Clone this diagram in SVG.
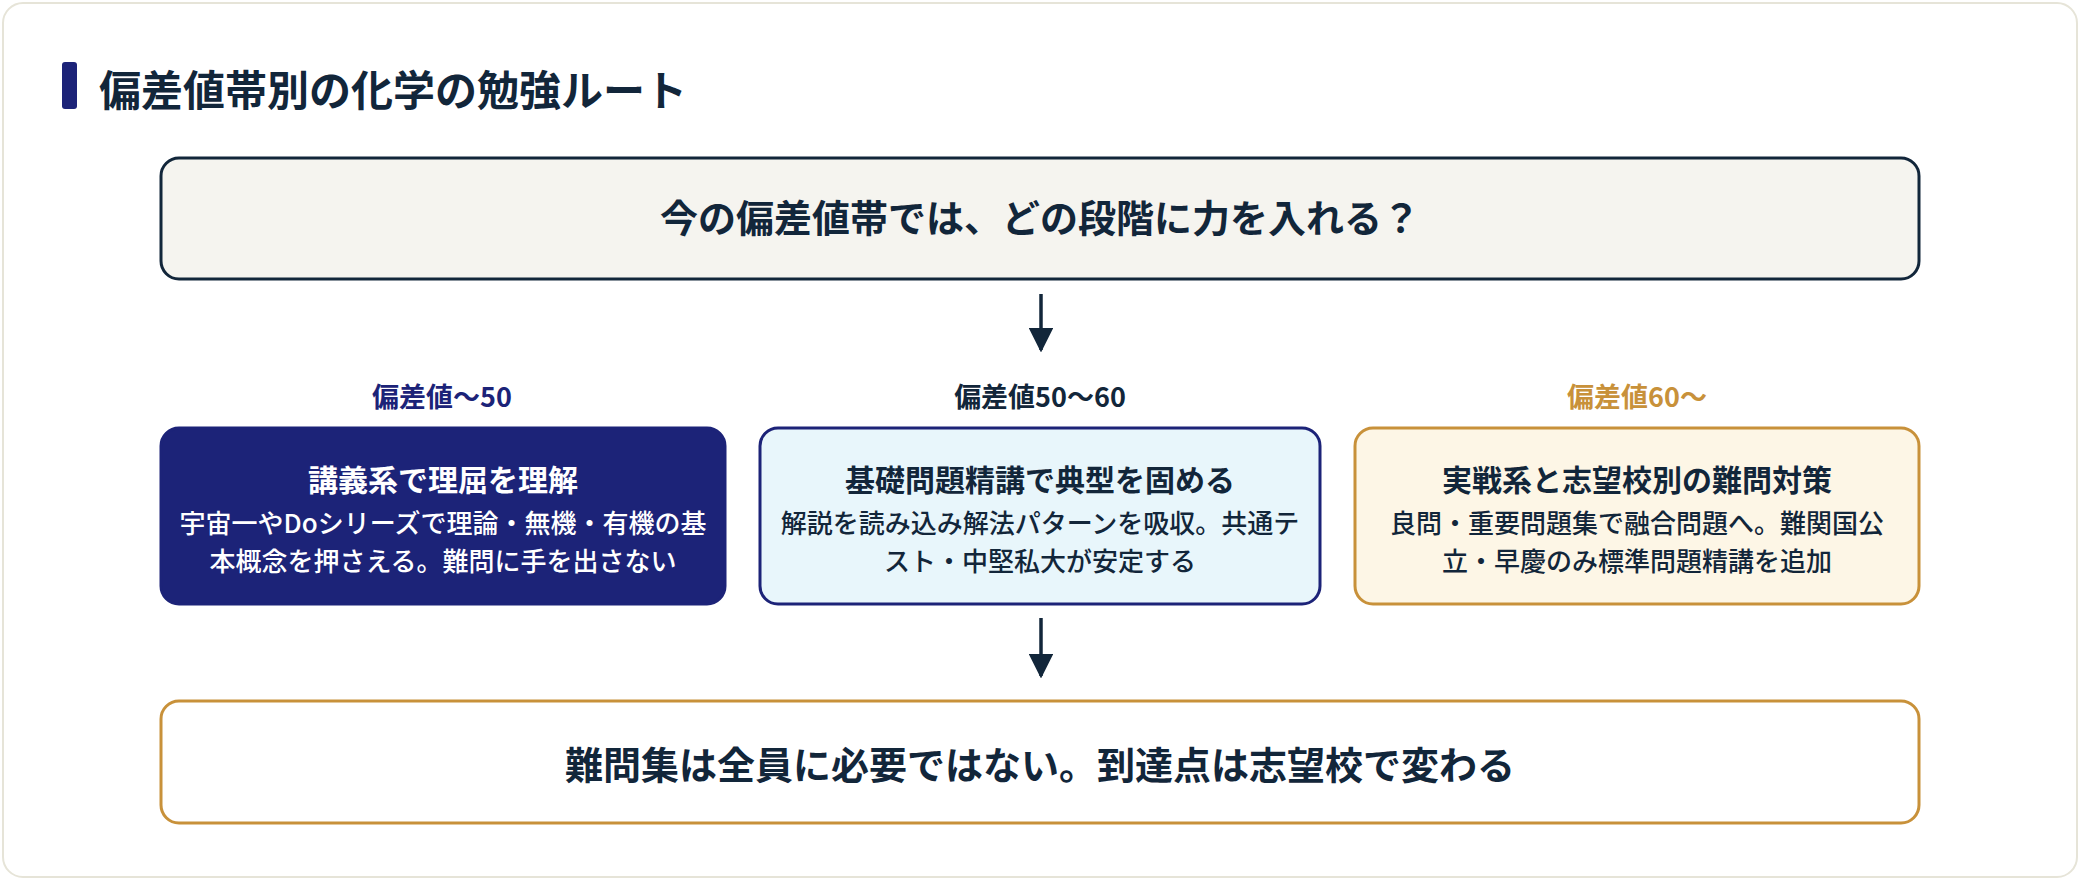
<svg xmlns="http://www.w3.org/2000/svg" width="2080" height="880" viewBox="0 0 2080 880">
<defs>
<marker id="ah" viewBox="0 0 10 10" refX="9" refY="5" markerWidth="7" markerHeight="7" orient="auto" markerUnits="strokeWidth"><path d="M0,0 L10,5 L0,10 z" fill="#12263a"/></marker>
<style>
text{font-family:"Noto Sans CJK JP","Noto Sans",sans-serif;font-weight:700;text-anchor:middle}
.t{font-size:38px;fill:#12263a}
.lb{font-size:27px}
.h{font-size:30px}
.d{font-size:26px;font-weight:500}
</style>
</defs>
<rect x="3" y="3" width="2074" height="874" rx="20" fill="#fff" stroke="#e6e4d8" stroke-width="2"/>
<g id="title"><rect x="62" y="62" width="15" height="47" rx="3" fill="#1c2378"/><text x="99" y="106" style="font-size:42px;text-anchor:start;fill:#12263a">偏差値帯別の化学の勉強ルート</text></g>
<g id="q"><rect x="161" y="158" width="1758" height="121" rx="18" fill="#f5f4ef" stroke="#12263a" stroke-width="3"/><text class="t" x="1040" y="232">今の偏差値帯では、どの段階に力を入れる？</text></g>
<g id="n1"><text class="lb" x="442" y="407" fill="#1c2378">偏差値〜50</text><rect x="161" y="428" width="564" height="176" rx="18" fill="#1c2378" stroke="#1c2378" stroke-width="3"/><text class="h" x="443" y="491" fill="#fff">講義系で理屈を理解</text><text class="d" x="443" y="533" fill="#fff">宇宙一やDoシリーズで理論・無機・有機の基</text><text class="d" x="443" y="571" fill="#fff">本概念を押さえる。難問に手を出さない</text></g>
<g id="n2"><text class="lb" x="1040" y="407" fill="#12263a">偏差値50〜60</text><rect x="760" y="428" width="560" height="176" rx="18" fill="#e8f6fb" stroke="#1c2378" stroke-width="3"/><text class="h" x="1040" y="491" fill="#12263a">基礎問題精講で典型を固める</text><text class="d" x="1040" y="533" fill="#12263a">解説を読み込み解法パターンを吸収。共通テ</text><text class="d" x="1040" y="571" fill="#12263a">スト・中堅私大が安定する</text></g>
<g id="n3"><text class="lb" x="1637" y="407" fill="#c8913a">偏差値60〜</text><rect x="1355" y="428" width="564" height="176" rx="18" fill="#fdf6e6" stroke="#c8913a" stroke-width="3"/><text class="h" x="1637" y="491" fill="#12263a">実戦系と志望校別の難問対策</text><text class="d" x="1637" y="533" fill="#12263a">良問・重要問題集で融合問題へ。難関国公</text><text class="d" x="1637" y="571" fill="#12263a">立・早慶のみ標準問題精講を追加</text></g>
<g id="end"><rect x="161" y="701" width="1758" height="122" rx="18" fill="#fff" stroke="#c8913a" stroke-width="3"/><text class="t" x="1040" y="779">難問集は全員に必要ではない。到達点は志望校で変わる</text></g>
<g id="connectors" stroke="#12263a" stroke-width="3.5" fill="none">
<line x1="1041" y1="294" x2="1041" y2="350" marker-end="url(#ah)"/>
<line x1="1041" y1="618" x2="1041" y2="676" marker-end="url(#ah)"/>
</g>
</svg>
